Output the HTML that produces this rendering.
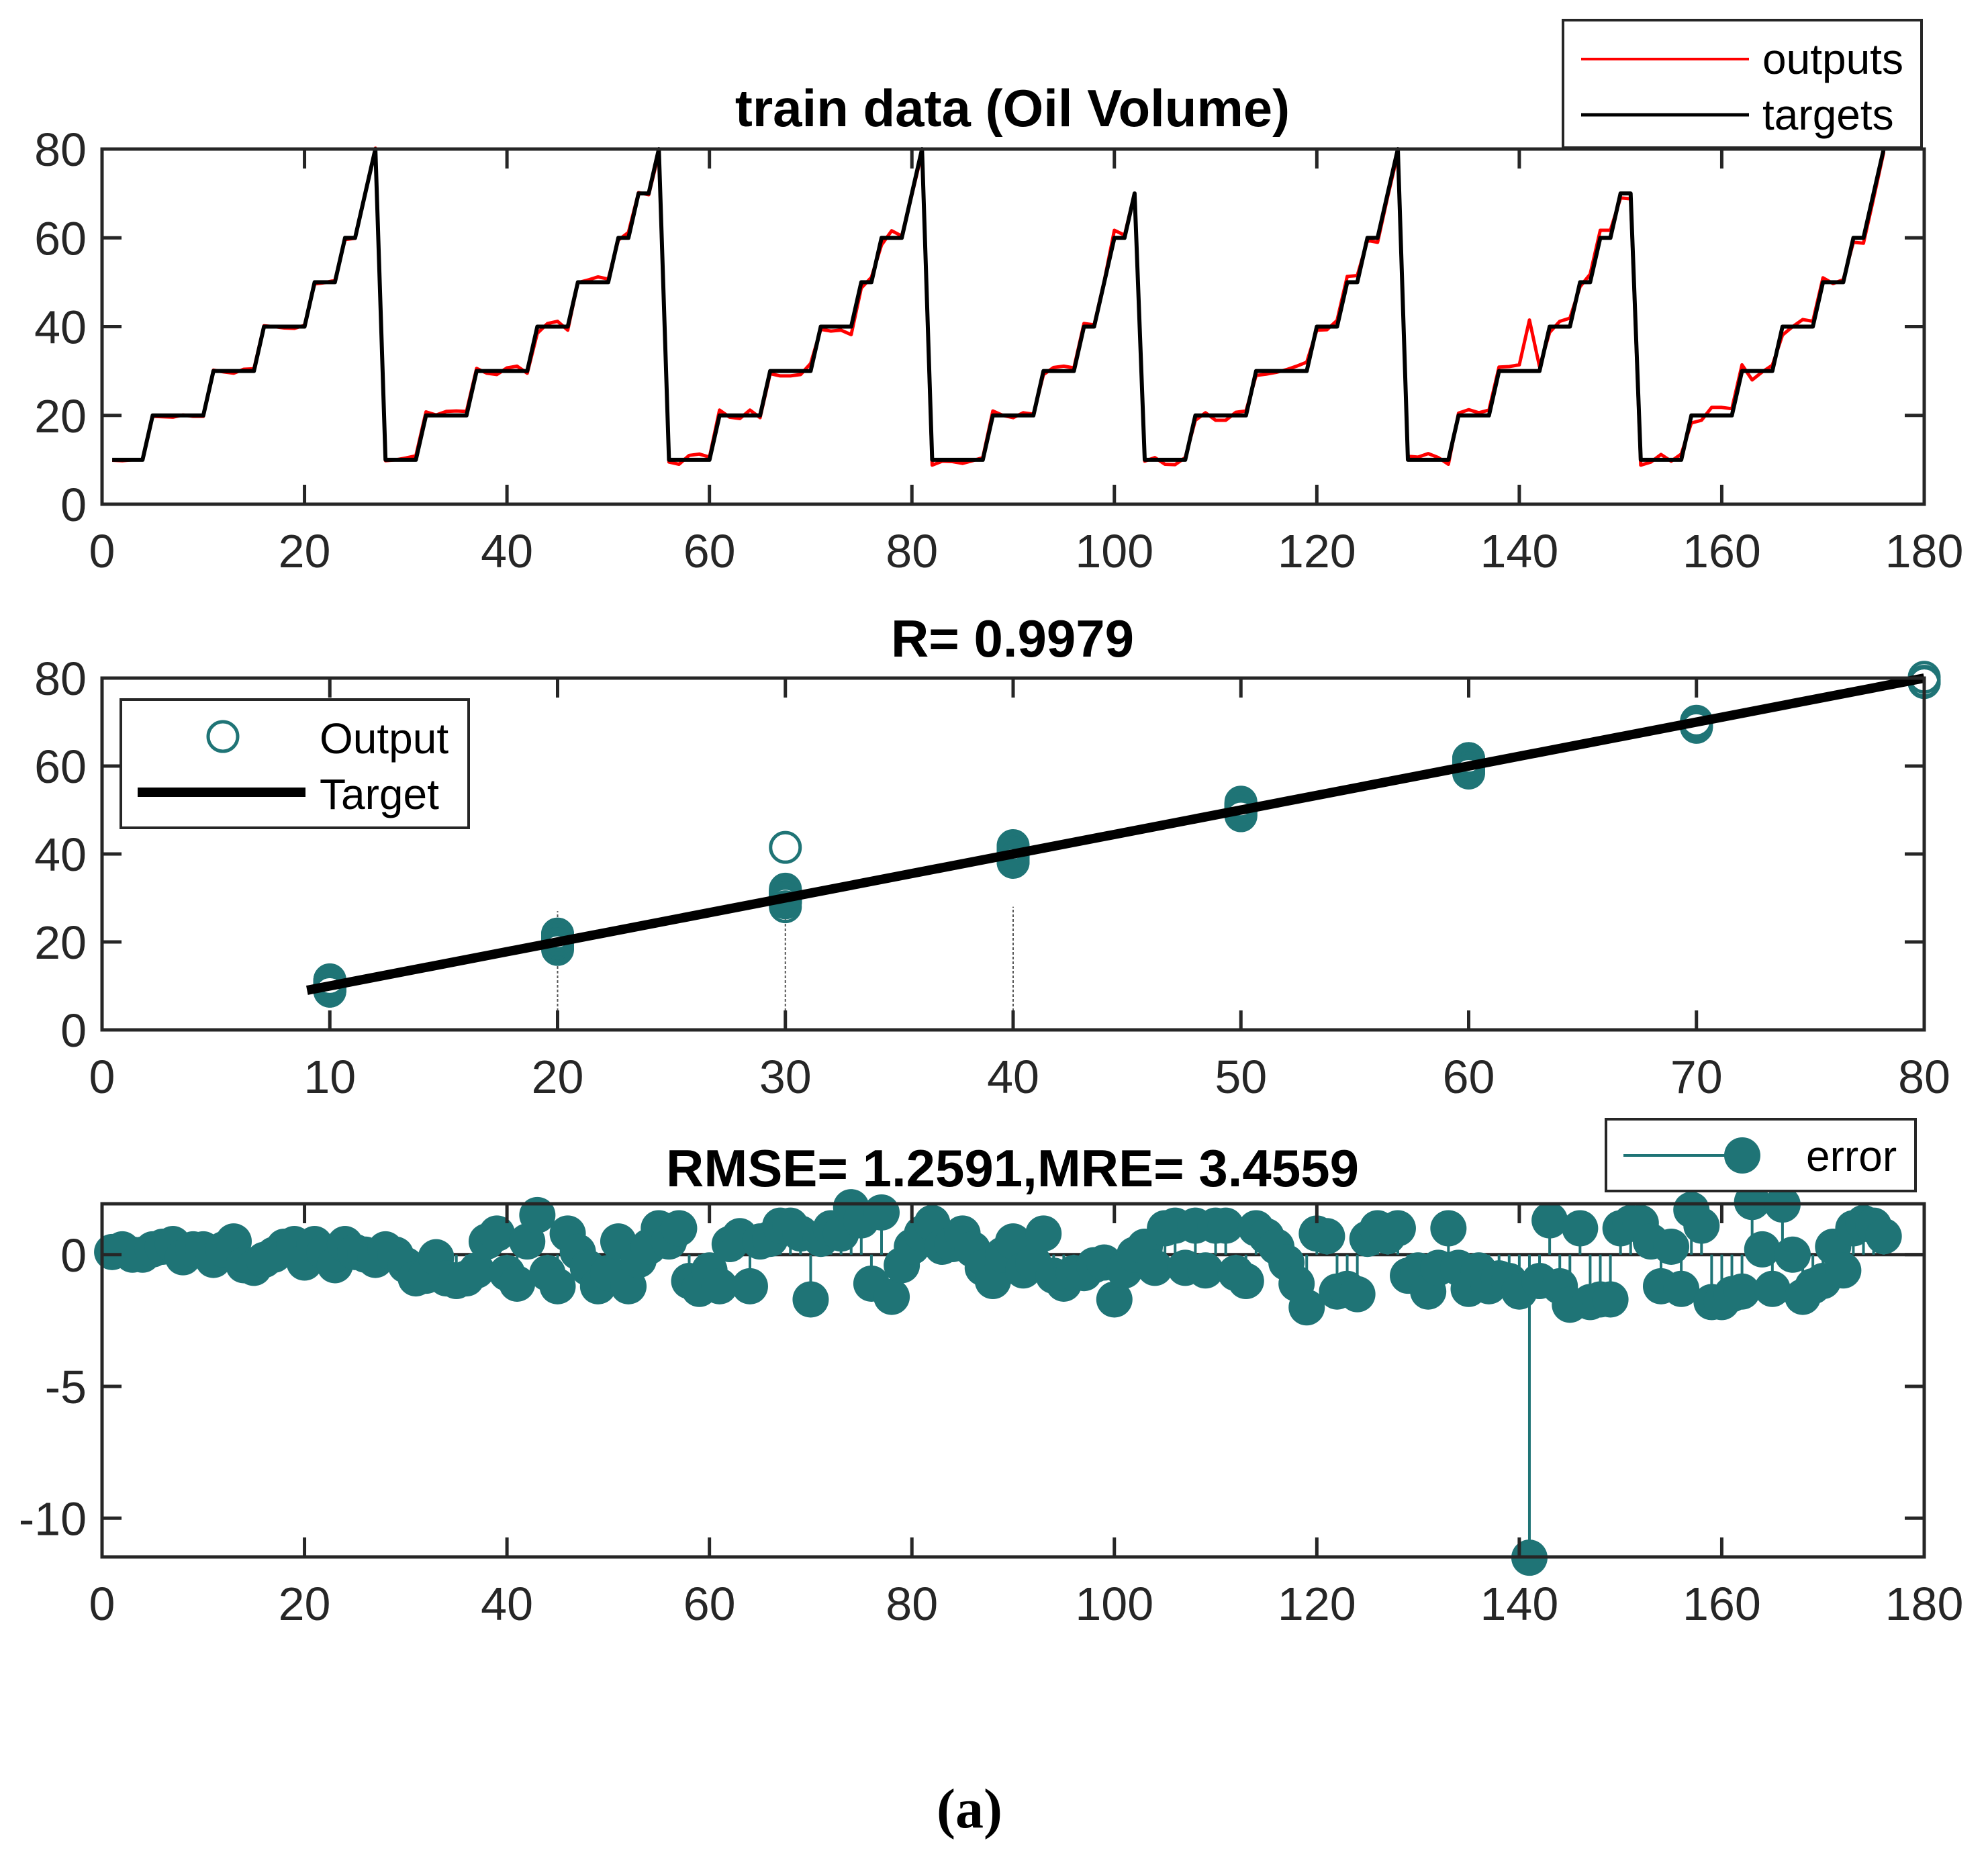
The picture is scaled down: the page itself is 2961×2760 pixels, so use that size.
<!DOCTYPE html>
<html><head><meta charset="utf-8"><style>
html,body{margin:0;padding:0;background:#fff;}
svg{display:block;font-family:"Liberation Sans",sans-serif;}
</style></head><body>
<svg id="fig" width="2961" height="2760" viewBox="0 0 2961 2760" xmlns="http://www.w3.org/2000/svg">
<rect x="0" y="0" width="2961" height="2760" fill="#fff"/>
<g id="p1"></g>
<g id="p2"></g>
<g id="p3"></g>
<text x="1508" y="188" text-anchor="middle" font-size="78" font-weight="bold" fill="#000">train data (Oil Volume)</text>
<text x="1508" y="978" text-anchor="middle" font-size="78" font-weight="bold" fill="#000">R= 0.9979</text>
<text x="1508" y="1767" text-anchor="middle" font-size="78" font-weight="bold" fill="#000">RMSE= 1.2591,MRE= 3.4559</text>
<text x="1444" y="2722" text-anchor="middle" font-size="84" font-weight="bold" font-family="Liberation Serif, serif" fill="#000">(a)</text>
<g>
<rect x="2328" y="30" width="534" height="190" fill="#fff" stroke="#262626" stroke-width="4"/>
<line x1="2355" y1="88" x2="2605" y2="88" stroke="#ff0000" stroke-width="4"/>
<text x="2625" y="110" font-size="64" fill="#000">outputs</text>
<line x1="2355" y1="171" x2="2605" y2="171" stroke="#000" stroke-width="5"/>
<text x="2625" y="193" font-size="64" fill="#000">targets</text>
</g>
</svg>
<script>
const targets = [10,10,10,10,20,20,20,20,20,20,30,30,30,30,30,40,40,40,40,40,50,50,50,60,60,70,80,
10,10,10,10,20,20,20,20,20,30,30,30,30,30,30,40,40,40,40,50,50,50,50,60,60,70,70,80,
10,10,10,10,10,20,20,20,20,20,30,30,30,30,30,40,40,40,40,50,50,60,60,60,70,80,
10,10,10,10,10,10,20,20,20,20,20,30,30,30,30,40,40,50,60,60,70,
10,10,10,10,10,20,20,20,20,20,20,30,30,30,30,30,30,40,40,40,50,50,60,60,70,80,
10,10,10,10,10,20,20,20,20,30,30,30,30,30,40,40,40,50,50,60,60,70,70,
10,10,10,10,10,20,20,20,20,20,30,30,30,30,40,40,40,40,50,50,50,60,60,70,80];
const errors = [0.1,0.2,0,0,0.2,0.3,0.4,-0.1,0.2,0.2,-0.2,0.2,0.5,-0.4,-0.5,-0.2,0,0.3,0.4,-0.3,
0.4,0.1,-0.4,0.4,0.1,0,-0.2,0.2,0,-0.4,-0.9,-0.8,-0.1,-0.9,-1.0,-0.9,-0.6,0.5,0.8,-0.7,
-1.1,0.5,1.5,-0.7,-1.2,0.8,0.1,-0.5,-1.2,-0.7,0.5,-1.2,-0.2,0.3,1.0,0.5,1.0,-1.0,-1.3,-0.6,
-1.2,0.4,0.7,-1.2,0.5,0.6,1.1,1.1,0.8,-1.7,0.6,1.0,0.8,1.8,1.3,-1.1,1.6,-1.6,-0.4,0.3,
0.8,1.2,0.3,0.4,0.8,0.2,-0.5,-1.0,0,0.5,-0.6,-0.3,0.8,-0.8,-1.1,-0.7,-0.7,-0.4,-0.3,-1.7,
-0.6,0,0.3,-0.5,1.0,1.1,-0.5,1.1,-0.6,1.1,1.1,-0.7,-1.0,1.0,0.7,0.3,-0.3,-1.1,-2.0,0.8,
0.7,-1.4,-1.3,-1.5,0.6,1.0,0.7,1.0,-0.8,-0.6,-1.4,-0.5,1.0,-0.5,-1.3,-0.6,-1.2,-0.9,-1.0,-1.4,
-11.5,-1.0,1.3,-1.2,-1.9,1.0,-1.8,-1.7,-1.7,1.0,1.2,1.2,0.5,-1.2,0.3,-1.3,1.7,1.1,-1.8,-1.8,
-1.5,-1.4,2.0,0.2,-1.3,1.9,0,-1.6,-1.2,-1.0,0.3,-0.6,1.0,1.2,1.1,0.7];
const xTicks1 = [0,20,40,60,80,100,120,140,160,180];
const yTicks1 = [0,20,40,60,80];
const xTicks2 = [0,10,20,30,40,50,60,70,80];
const yTicks2 = [0,20,40,60,80];
const yTicks3 = [-10,-5,0];
const fitLine = [9,80];
const dottedX = [20,30,40];
const dottedTop = [27,26,28];

const NS = 'http://www.w3.org/2000/svg';
function mk(parent, tag, attrs){ const e=document.createElementNS(NS,tag); for(const k in attrs) e.setAttribute(k,attrs[k]); parent.appendChild(e); return e; }
const L=152, R=2866;
const teal='#1f7476', axc='#262626';

function axes(g, x0,x1,y0,y1, top,bot, xt, yt, name){
  const sx=v=>L+(v-x0)/(x1-x0)*(R-L);
  const sy=v=>bot-(v-y0)/(y1-y0)*(bot-top);
  return {sx,sy,draw:function(){
    const fr=mk(g,'rect',{x:L,y:top,width:R-L,height:bot-top,fill:'none',stroke:axc,'stroke-width':5});
    
    
    xt.forEach(v=>{
      const x=sx(v);
      mk(g,'line',{x1:x,y1:bot,x2:x,y2:bot-29,stroke:axc,'stroke-width':5});
      mk(g,'line',{x1:x,y1:top,x2:x,y2:top+29,stroke:axc,'stroke-width':5});
      const t=mk(g,'text',{x:x,y:bot+94,'text-anchor':'middle','font-size':70,fill:axc});
      t.textContent=v;
      
      
    });
    yt.forEach(v=>{
      const y=sy(v);
      mk(g,'line',{x1:L,y1:y,x2:L+29,y2:y,stroke:axc,'stroke-width':5});
      mk(g,'line',{x1:R,y1:y,x2:R-29,y2:y,stroke:axc,'stroke-width':5});
      const t=mk(g,'text',{x:129,y:y+25,'text-anchor':'end','font-size':70,fill:axc});
      t.textContent=v;
      
      
    });
  }};
}

// Panel 1
const g1=document.getElementById('p1');
const a1=axes(g1,0,180,0,80,222,751,xTicks1,yTicks1,'train');
const outputs = targets.map((t,i)=>t-errors[i]);
let pr='', pb='';
targets.forEach((t,i)=>{ pb+=(i?'L':'M')+a1.sx(i+1).toFixed(1)+' '+a1.sy(t).toFixed(1); });
outputs.forEach((o,i)=>{ pr+=(i?'L':'M')+a1.sx(i+1).toFixed(1)+' '+a1.sy(o).toFixed(1); });
const redL=mk(g1,'path',{d:pr,fill:'none',stroke:'#ff0000','stroke-width':5,'stroke-linejoin':'round'});


const blkL=mk(g1,'path',{d:pb,fill:'none',stroke:'#000','stroke-width':6,'stroke-linejoin':'round'});


a1.draw();

// Panel 2
const g2=document.getElementById('p2');
const a2=axes(g2,0,80,0,80,1010,1534,xTicks2,yTicks2,'regression');
dottedX.forEach((x,i)=>{
  const d=mk(g2,'line',{x1:a2.sx(x),y1:a2.sy(0),x2:a2.sx(x),y2:a2.sy(dottedTop[i]),stroke:'#555','stroke-width':2,'stroke-dasharray':'4 3'});
  
  
});
outputs.forEach((o,i)=>{
  const c=mk(g2,'circle',{cx:a2.sx(targets[i]),cy:a2.sy(o),r:22,fill:'none',stroke:teal,'stroke-width':5});
  
  
});
const fl=mk(g2,'line',{x1:a2.sx(fitLine[0]),y1:a2.sy(fitLine[0]),x2:a2.sx(fitLine[1]),y2:a2.sy(fitLine[1]),stroke:'#000','stroke-width':14});


a2.draw();
const lg2=mk(g2,'g',{});


mk(lg2,'rect',{x:180,y:1042,width:518,height:191,fill:'#fff',stroke:axc,'stroke-width':4});
mk(lg2,'circle',{cx:332,cy:1097,r:22,fill:'none',stroke:teal,'stroke-width':5});
const t2a=mk(lg2,'text',{x:476,y:1122,'font-size':64,fill:'#000'}); t2a.textContent='Output';


mk(lg2,'line',{x1:205,y1:1180,x2:455,y2:1180,stroke:'#000','stroke-width':14});
const t2b=mk(lg2,'text',{x:476,y:1205,'font-size':64,fill:'#000'}); t2b.textContent='Target';



// Panel 3
const g3=document.getElementById('p3');
const a3=axes(g3,0,180,-11.47,1.93,1793,2319,xTicks1,yTicks3,'error');
const zl=mk(g3,'line',{x1:L,y1:a3.sy(0),x2:R,y2:a3.sy(0),stroke:axc,'stroke-width':5});


errors.forEach((e,i)=>{
  const s=mk(g3,'line',{x1:a3.sx(i+1),y1:a3.sy(0),x2:a3.sx(i+1),y2:a3.sy(e),stroke:teal,'stroke-width':4});
  
  
});
errors.forEach((e,i)=>{
  const c=mk(g3,'circle',{cx:a3.sx(i+1),cy:a3.sy(e),r:27,fill:teal});
  
  
});
a3.draw();
const lg3=mk(g3,'g',{});


mk(lg3,'rect',{x:2392,y:1667,width:461,height:107,fill:'#fff',stroke:axc,'stroke-width':4});
mk(lg3,'line',{x1:2418,y1:1721,x2:2595,y2:1721,stroke:teal,'stroke-width':4});
mk(lg3,'circle',{cx:2595,cy:1721,r:27,fill:teal});
const t3=mk(lg3,'text',{x:2690,y:1744,'font-size':64,fill:'#000'}); t3.textContent='error';


</script>
</body></html>
